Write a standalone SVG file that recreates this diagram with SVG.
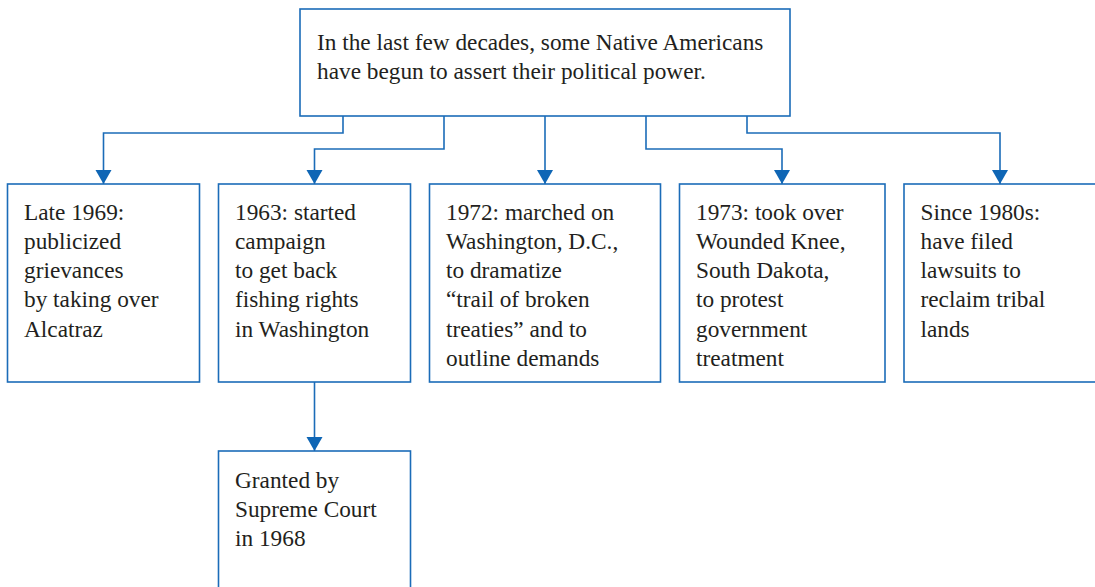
<svg xmlns="http://www.w3.org/2000/svg" width="1095" height="587" viewBox="0 0 1095 587">
  <style>
    .box { fill: #ffffff; stroke: #1b6cb8; stroke-width: 1.6; }
    .link { fill: none; stroke: #1b6cb8; stroke-width: 1.6; }
    .label { font-family: "Liberation Serif", "Times New Roman", serif; font-size: 23.3px; fill: #231f20; }
  </style>
  <defs>
    <marker id="arrow" markerUnits="userSpaceOnUse" markerWidth="15" markerHeight="17" refX="14" refY="8" orient="auto" viewBox="0 0 15 17">
      <path d="M0,0 L14,8 L0,16 Z" fill="#0f66b5"/>
    </marker>
  </defs>
  <rect width="1095" height="587" fill="#ffffff"/>

  <!-- connectors -->
  <g id="connectors">
    <path class="link" d="M343,116 V133 H103.5 V184" marker-end="url(#arrow)"/>
    <path class="link" d="M444,116 V149 H314.5 V184" marker-end="url(#arrow)"/>
    <path class="link" d="M545,116 V184" marker-end="url(#arrow)"/>
    <path class="link" d="M646,116 V149 H782 V184" marker-end="url(#arrow)"/>
    <path class="link" d="M747,116 V133 H1000 V184" marker-end="url(#arrow)"/>
    <path class="link" d="M314.5,382 V451" marker-end="url(#arrow)"/>
  </g>

  <!-- root statement -->
  <g id="root">
    <rect class="box" x="300" y="9" width="490" height="107"/>
    <text class="label" x="317" y="50" font-size="23.6">In the last few decades, some Native Americans</text>
    <text class="label" x="317" y="79" font-size="23.6">have begun to assert their political power.</text>
  </g>

  <g id="alcatraz">
    <rect class="box" x="7.5" y="184" width="192" height="198"/>
    <text class="label" x="24" y="219.5">Late 1969:</text>
    <text class="label" x="24" y="248.8">publicized</text>
    <text class="label" x="24" y="278.1">grievances</text>
    <text class="label" x="24" y="307.4">by taking over</text>
    <text class="label" x="24" y="336.7">Alcatraz</text>
  </g>

  <g id="fishing">
    <rect class="box" x="218.5" y="184" width="192" height="198"/>
    <text class="label" x="235" y="219.5">1963: started</text>
    <text class="label" x="235" y="248.8">campaign</text>
    <text class="label" x="235" y="278.1">to get back</text>
    <text class="label" x="235" y="307.4">fishing rights</text>
    <text class="label" x="235" y="336.7">in Washington</text>
  </g>

  <g id="march">
    <rect class="box" x="429.5" y="184" width="231" height="198"/>
    <text class="label" x="446" y="219.5">1972: marched on</text>
    <text class="label" x="446" y="248.8">Washington, D.C.,</text>
    <text class="label" x="446" y="278.1">to dramatize</text>
    <text class="label" x="446" y="307.4">“trail of broken</text>
    <text class="label" x="446" y="336.7">treaties” and to</text>
    <text class="label" x="446" y="366">outline demands</text>
  </g>

  <g id="wounded-knee">
    <rect class="box" x="679.5" y="184" width="205.5" height="198"/>
    <text class="label" x="696" y="219.5">1973: took over</text>
    <text class="label" x="696" y="248.8">Wounded Knee,</text>
    <text class="label" x="696" y="278.1">South Dakota,</text>
    <text class="label" x="696" y="307.4">to protest</text>
    <text class="label" x="696" y="336.7">government</text>
    <text class="label" x="696" y="366">treatment</text>
  </g>

  <g id="lawsuits">
    <rect class="box" x="904" y="184" width="200" height="198"/>
    <text class="label" x="920.5" y="219.5">Since 1980s:</text>
    <text class="label" x="920.5" y="248.8">have filed</text>
    <text class="label" x="920.5" y="278.1">lawsuits to</text>
    <text class="label" x="920.5" y="307.4">reclaim tribal</text>
    <text class="label" x="920.5" y="336.7">lands</text>
  </g>

  <g id="court">
    <rect class="box" x="218.5" y="451" width="192" height="150"/>
    <text class="label" x="235" y="488.3">Granted by</text>
    <text class="label" x="235" y="517.3">Supreme Court</text>
    <text class="label" x="235" y="546">in 1968</text>
  </g>
</svg>
